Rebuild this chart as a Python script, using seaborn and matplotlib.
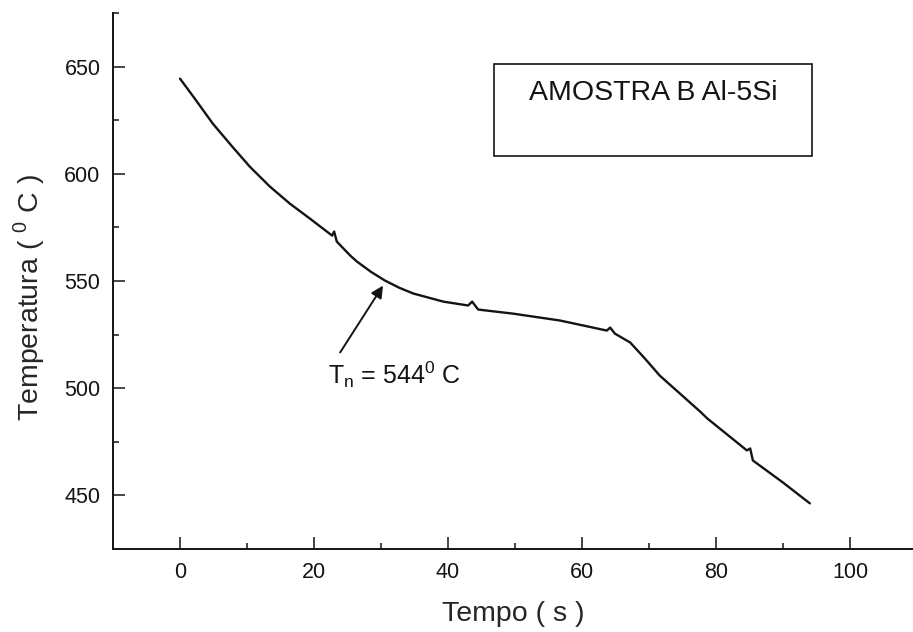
import matplotlib
matplotlib.use("Agg")
import matplotlib.pyplot as plt
from matplotlib.patches import Rectangle
from matplotlib.ticker import FixedLocator
import seaborn as sns
import pandas as pd

sns.set_style("ticks")
plt.rcParams["font.family"] = ["Liberation Sans", "DejaVu Sans"]

# cooling curve (time in s, temperature in C)
tempo = [0.0, 2.2, 4.9, 7.8, 10.4, 13.4, 16.4, 19.4, 22.7, 23.0, 23.4,
         25.4, 26.4, 28.5, 30.6, 32.7, 34.8, 39.3, 43.0, 43.6, 44.5, 49.7, 56.7,
         63.7, 64.2, 64.9, 67.2, 69.4, 71.6, 77.6, 78.7, 84.6, 85.1, 85.5, 90.0, 94.0]
temperatura = [644.4, 635.1, 623.4, 612.7, 603.4, 594.1, 586.1, 579.1, 571.2, 573.1, 568.4,
               561.9, 559.1, 554.3, 550.2, 546.9, 544.2, 540.4, 538.6, 540.4, 536.7, 534.8, 531.6,
               526.9, 528.3, 525.5, 521.3, 513.8, 505.9, 489.2, 485.9, 471.0, 471.9, 466.3, 456.0, 446.3]

x_major = [0, 20, 40, 60, 80, 100]
x_minor = [10, 30, 50, 70, 90]
y_major = [450, 500, 550, 600, 650]
y_minor = [475, 525, 575, 625, 675]

df = pd.DataFrame({"Tempo": tempo, "Temperatura": temperatura})

fig = plt.figure(figsize=(9.13, 6.32), dpi=100)
ax = fig.add_axes([0.1238, 0.1313, 0.8762, 0.848])

sns.lineplot(data=df, x="Tempo", y="Temperatura", color="#141414",
             linewidth=1.7, estimator=None, sort=False, ax=ax)

ax.set_xlim(-10, 109.4)
ax.set_ylim(425, 675)
ax.xaxis.set_major_locator(FixedLocator(x_major))
ax.xaxis.set_minor_locator(FixedLocator(x_minor))
ax.yaxis.set_major_locator(FixedLocator(y_major))
ax.yaxis.set_minor_locator(FixedLocator(y_minor))

for side in ["top", "right"]:
    ax.spines[side].set_visible(False)
for side in ["left", "bottom"]:
    ax.spines[side].set_linewidth(1.4)
    ax.spines[side].set_color("#141414")

ax.tick_params(which="major", direction="in", length=8.5, width=1.1,
               labelsize=15.5, pad=9, colors="#141414")
ax.tick_params(which="minor", direction="in", length=4.3, width=1.1,
               colors="#141414")

ax.set_xlabel("Tempo ( s )", fontsize=20.5, labelpad=13)
ax.set_ylabel(r"Temperatura ( $^\mathregular{0}$ C )", fontsize=20.5)
ax.yaxis.set_label_coords(-0.082, 0.47)

# sample box
ax.add_patch(Rectangle((46.9, 608.5), 47.4, 42.9, fill=False,
                       edgecolor="#141414", linewidth=1.2))
ax.text(70.6, 637.5, "AMOSTRA B Al-5Si", fontsize=20.5,
        ha="center", va="center", color="#141414")

# nucleation temperature
ax.text(22.1, 502.2, r"T$_\mathregular{n}$ = 544$^\mathregular{0}$ C",
        fontsize=18, ha="left", va="baseline", color="#141414")
ax.annotate("", xy=(30.3, 547.9), xytext=(23.9, 516.7),
            arrowprops=dict(arrowstyle="-|>", color="#141414", lw=1.4,
                            shrinkA=0, shrinkB=0, mutation_scale=18))

fig.savefig("out.png", dpi=100)
